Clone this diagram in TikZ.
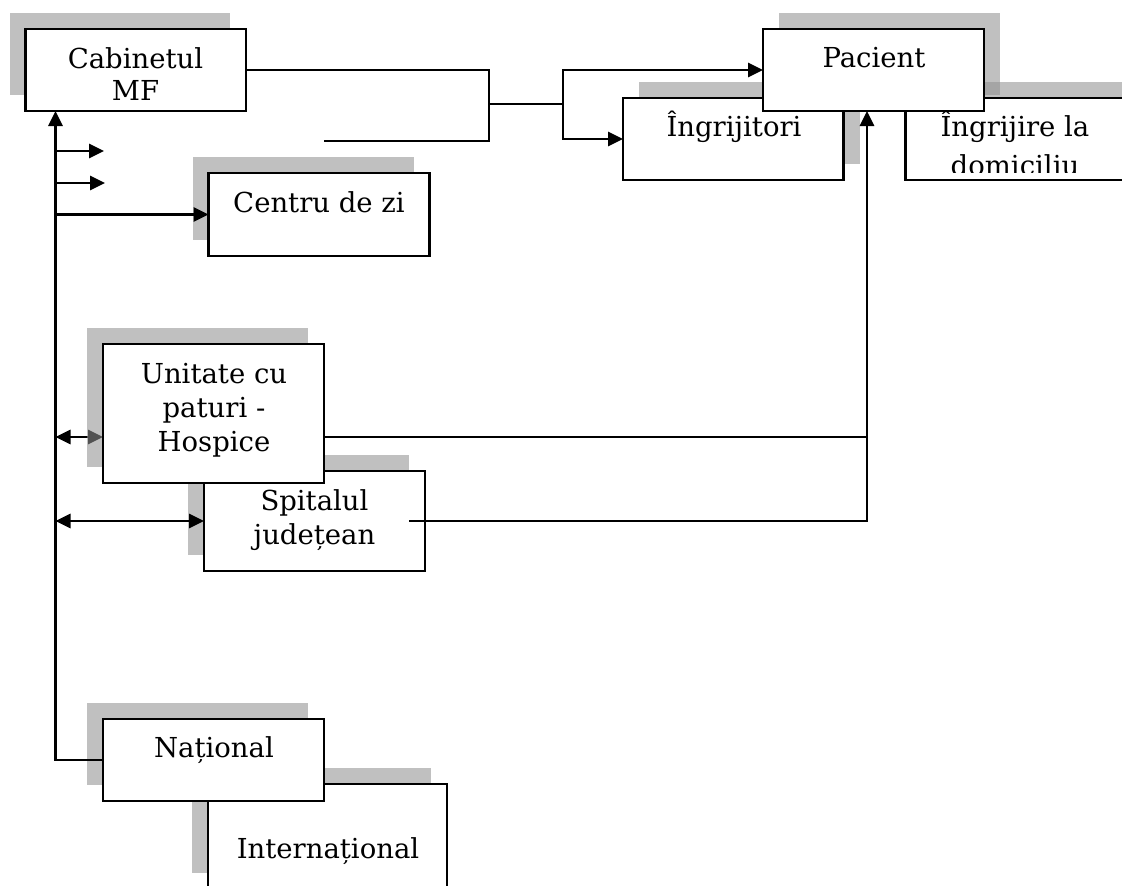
\documentclass[tikz,border=0pt]{standalone}
\usepackage{fontspec}
\setmainfont{DejaVu Serif}
\usetikzlibrary{arrows.meta,calc}
\definecolor{shadowc}{RGB}{145,145,145}
\tikzset{
  frame/.style 2 args={inner sep=0pt,outer sep=0pt,anchor=north west,minimum width=#1pt,minimum height=#2pt},
  shadowfill/.style={fill=shadowc,fill opacity=0.57},
  boxline/.style={draw=black,line width=2.2pt,fill=white},
  conn/.style={draw=black,line width=2.8pt},
  txt/.style={anchor=base,inner sep=0pt,outer sep=0pt,font=\fontsize{27.5}{33}\selectfont},
  >={Triangle[length=15pt,width=14pt]}
}
\newcommand\shbox[3][]{%
  \fill[shadowfill] ([shift={#3}]#2.north west) rectangle ([shift={#3}]#2.south east);
  \draw[boxline,#1] (#2.north west) rectangle (#2.south east);}
\begin{document}
\begin{tikzpicture}[x=1pt,y=-1pt]
\useasboundingbox (0,0) rectangle (1122,886);
\clip (0,0) rectangle (1122,886);
% box frames (names only)
\node[frame={220.5}{82}] (cab) at (25.5,29) {};
\node[frame={221}{83}] (cdz) at (208.5,173) {};
\node[frame={221}{82}] (pac) at (763,29) {};
\node[frame={220.5}{82}] (ingr) at (623,98) {};
\node[frame={220}{82}] (ingd) at (905.5,98) {};
\node[frame={221}{139}] (uni) at (103,344) {};
\node[frame={221}{100}] (spi) at (204,471) {};
\node[frame={221}{82}] (nat) at (103,719) {};
\node[frame={239}{105}] (intl) at (208,784) {};
% helper coordinates
\coordinate (hubTop) at ([xshift=30pt]cab.south west);
\coordinate (jB) at (489,141);
\coordinate (freeL) at (324,141);
\coordinate (jM) at (489,104);
\coordinate (kM) at (563,104);
\coordinate (y151) at (0,151);
\coordinate (y183) at (0,183);
\coordinate (s1e) at (104,151);
\coordinate (s2e) at (105,183);
\coordinate (u437) at (0,437);
\coordinate (pv) at ([xshift=-6.5pt]pac.south);
\coordinate (spiOut) at ([xshift=-16pt]spi.east);
% boxes, back to front
\shbox{cab}{(-16,-16)}
\shbox{cdz}{(-16,-16)}
\shbox{ingr}{(16,-16)}
\shbox{ingd}{(16,-16)}
\shbox{pac}{(16,-16)}
\shbox{spi}{(-16,-16)}
\draw[conn,<->] (hubTop |- u437) -- (uni.west |- u437);
\shbox{uni}{(-16,-16)}
\shbox[line width=1.5pt]{intl}{(-16,-16)}
\shbox{nat}{(-16,-16)}
% connectors
\draw[conn] (cab.east) -| (jB) -- (freeL);
\draw[conn] (jM) -- (kM);
\draw[conn,->] (kM) |- (pac.west);
\draw[conn,->] (kM) |- (ingr.west);
\draw[conn,<-] (hubTop) |- (nat.west);
\draw[conn,->] (hubTop |- y151) -- (s1e);
\draw[conn,->] (hubTop |- y183) -- (s2e);
\draw[conn,->] (hubTop |- cdz.west) -- (cdz.west);
\draw[conn] (uni.east |- u437) -- (pv |- u437);
\draw[conn,<->] (hubTop |- spi.west) -- (spi.west);
\draw[conn,->] (spiOut) -| (pv);
% texts
\node[txt] (cabT1) at (135.5,68) {Cabinetul};
\node[txt] (cabT2) at (135.5,100) {MF};
\node[txt] (pacT) at (874,67) {Pacient};
\node[txt] (ingrT) at (734,136) {Îngrijitori};
\node[txt] (ingdT1) at (1015,136) {Îngrijire la};
\begin{scope}
\clip ([yshift=8pt]ingd.south west) rectangle (ingd.north east);
\node[txt] (ingdT2) at (1015,175) {domiciliu};
\end{scope}
\node[txt] (cdzT) at (319,212) {Centru de zi};
\node[txt] (uniT1) at (214,383) {Unitate cu};
\node[txt] (uniT2) at (214,417) {paturi -};
\node[txt] (uniT3) at (214,451) {Hospice};
\node[txt] (spiT1) at (314.5,510) {Spitalul};
\node[txt] (spiT2) at (314.5,544) {județean};
\node[txt] (natT) at (214,757) {Național};
\node[txt] (intlT) at (328,858) {Internațional};
\end{tikzpicture}
\end{document}
